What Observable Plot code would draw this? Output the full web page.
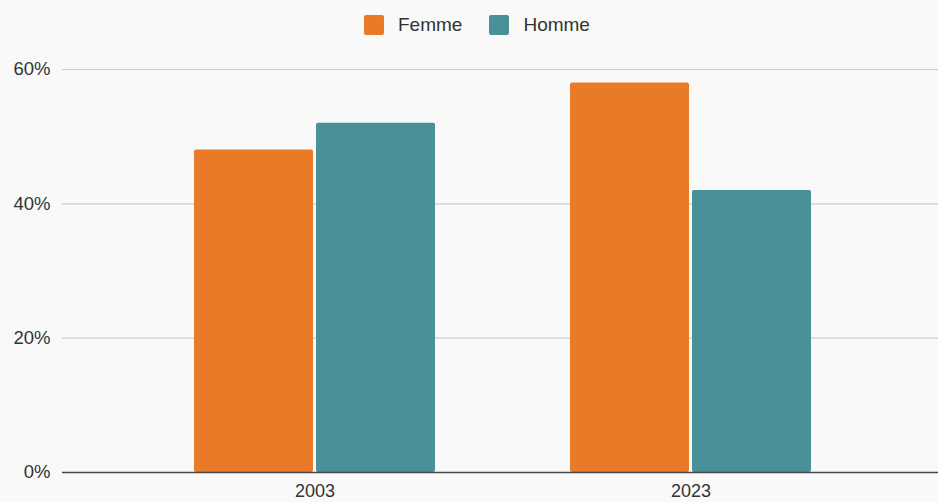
<!DOCTYPE html>
<html>
<head>
<meta charset="utf-8">
<script src="https://cdn.jsdelivr.net/npm/d3@7"></script>
<script src="https://cdn.jsdelivr.net/npm/@observablehq/plot@0.6"></script>
<style>
  html, body { margin: 0; padding: 0; background: #f9f9f9; }
  body { width: 938px; height: 502px; overflow: hidden; font-family: "Liberation Sans", Arial, sans-serif; }
  #legend { height: 50px; display: flex; justify-content: flex-start; align-items: center; padding-left: 364px; box-sizing: border-box; color: #333; font-size: 19px; }
  .item { display: flex; align-items: center; margin-right: 27px; }
  .sw { width: 20px; height: 20px; border-radius: 2px; margin-right: 14px; }
</style>
</head>
<body>
<div id="legend"></div>
<div id="chart"></div>
<script>
const years = ["2003", "2023"];
const series = ["Femme", "Homme"];
const femme = [48, 58];
const homme = [52, 42];
const colors = ["#E97A28", "#4A9098"];
const yTicks = [0, 20, 40, 60];

const data = [];
years.forEach((y, i) => {
  data.push({year: y, sex: "Femme", value: femme[i]});
  data.push({year: y, sex: "Homme", value: homme[i]});
});

const legend = document.getElementById("legend");
series.forEach((s, i) => {
  const it = document.createElement("div");
  it.className = "item";
  const sw = document.createElement("div");
  sw.className = "sw";
  sw.style.background = colors[i];
  const t = document.createElement("span");
  t.textContent = s;
  it.appendChild(sw); it.appendChild(t);
  legend.appendChild(it);
});

const chart = Plot.plot({
  width: 938,
  height: 452,
  marginTop: 19,
  marginBottom: 30,
  marginLeft: 62,
  marginRight: 0,
  style: {background: "transparent", fontFamily: "'Liberation Sans', Arial, sans-serif", fontSize: "18.5px", color: "#333"},
  x: {domain: years, range: [62, 943], paddingInner: 0.359, paddingOuter: 0.351, label: null, tickSize: 0, tickPadding: 12},
  y: {domain: [0, 60], ticks: yTicks, tickFormat: d => d + "%", label: null, tickSize: 0, tickPadding: 12},
  color: {domain: series, range: colors},
  marks: [
    Plot.ruleY(yTicks.filter(d => d > 0), {stroke: "#cccccc", strokeWidth: 1.2}),
    Plot.barY(data.filter(d => d.sex === "Femme"), {x: "year", y: "value", fill: "sex", insetRight: 122, rx: 2}),
    Plot.barY(data.filter(d => d.sex === "Homme"), {x: "year", y: "value", fill: "sex", insetLeft: 122, rx: 2}),
    Plot.ruleY([0], {stroke: "#444", strokeWidth: 1.5})
  ]
});
chart.querySelectorAll("[aria-label='x-axis tick label'] text").forEach(t => t.style.fontSize = "18px");
document.getElementById("chart").appendChild(chart);
</script>
</body>
</html>
